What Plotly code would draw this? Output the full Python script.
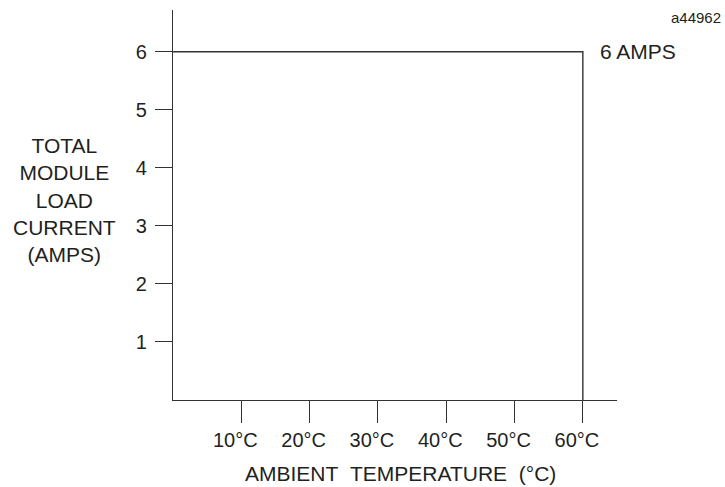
import plotly.graph_objects as go

# Data
temps = [0, 60, 60]
current = [6, 6, 0]
x_tick_vals = [10, 20, 30, 40, 50, 60]
x_tick_text = ["10°C", "20°C", "30°C", "40°C", "50°C", "60°C"]
y_tick_vals = [1, 2, 3, 4, 5, 6]
y_tick_text = ["1", "2", "3", "4", "5", "6"]

ink = "#231f20"
line_col = "#333333"
FONT = "Liberation Sans, Arial, sans-serif"

W, H = 725, 487
pl, pr, pt, pb = 172.6, 108, 10, 87
pw, ph = W - pl - pr, H - pt - pb


def px_x(px):
    return (px - pl) / pw


def px_y(py):
    return (H - pb - py) / ph


fig = go.Figure()
fig.add_trace(go.Scatter(x=temps, y=current, mode="lines",
                         line=dict(color=line_col, width=1.4),
                         hoverinfo="skip", showlegend=False))

fig.update_layout(
    width=W, height=H,
    margin=dict(l=pl, r=pr, t=pt, b=pb),
    paper_bgcolor="white", plot_bgcolor="white",
    font=dict(family=FONT, size=20, color=ink),
    showlegend=False,
)
fig.update_xaxes(range=[0, 65], showline=True, linecolor=line_col, linewidth=1.4,
                 showgrid=False, zeroline=False,
                 tickmode="array", tickvals=x_tick_vals, ticktext=x_tick_text,
                 ticks="outside", ticklen=22, tickwidth=1.4, tickcolor=line_col,
                 ticklabelstandoff=0, ticklabelshift=-6,
                 tickfont=dict(size=20, color=ink, family=FONT))
fig.update_yaxes(range=[0, 6.72], showline=True, linecolor=line_col, linewidth=1.4,
                 showgrid=False, zeroline=False,
                 tickmode="array", tickvals=y_tick_vals, ticktext=y_tick_text,
                 ticks="outside", ticklen=17, tickwidth=1.4, tickcolor=line_col,
                 ticklabelstandoff=4,
                 tickfont=dict(size=20, color=ink, family=FONT))

fig.add_annotation(x=60, y=6, xref="x", yref="y", text="6 AMPS",
                   showarrow=False, xanchor="left", yanchor="middle", xshift=15,
                   font=dict(size=21, color=ink, family=FONT))
fig.add_annotation(x=px_x(64), y=px_y(200), xref="paper", yref="paper",
                   text="TOTAL<br>MODULE<br>LOAD<br>CURRENT<br>(AMPS)",
                   showarrow=False, align="center", xanchor="center", yanchor="middle",
                   font=dict(size=21, color=ink, family=FONT))
fig.add_annotation(x=px_x(400), y=px_y(473), xref="paper", yref="paper",
                   text="AMBIENT\u00a0\u00a0TEMPERATURE\u00a0\u00a0(°C)",
                   showarrow=False, xanchor="center", yanchor="middle",
                   font=dict(size=21, color=ink, family=FONT))
fig.add_annotation(x=px_x(723), y=px_y(17), xref="paper", yref="paper", text="a44962",
                   showarrow=False, xanchor="right", yanchor="middle",
                   font=dict(size=15, color=ink, family=FONT))

fig.write_html("out.html", config={"displayModeBar": False},
               post_script="document.body.style.margin='0';document.body.style.overflow='hidden';")
